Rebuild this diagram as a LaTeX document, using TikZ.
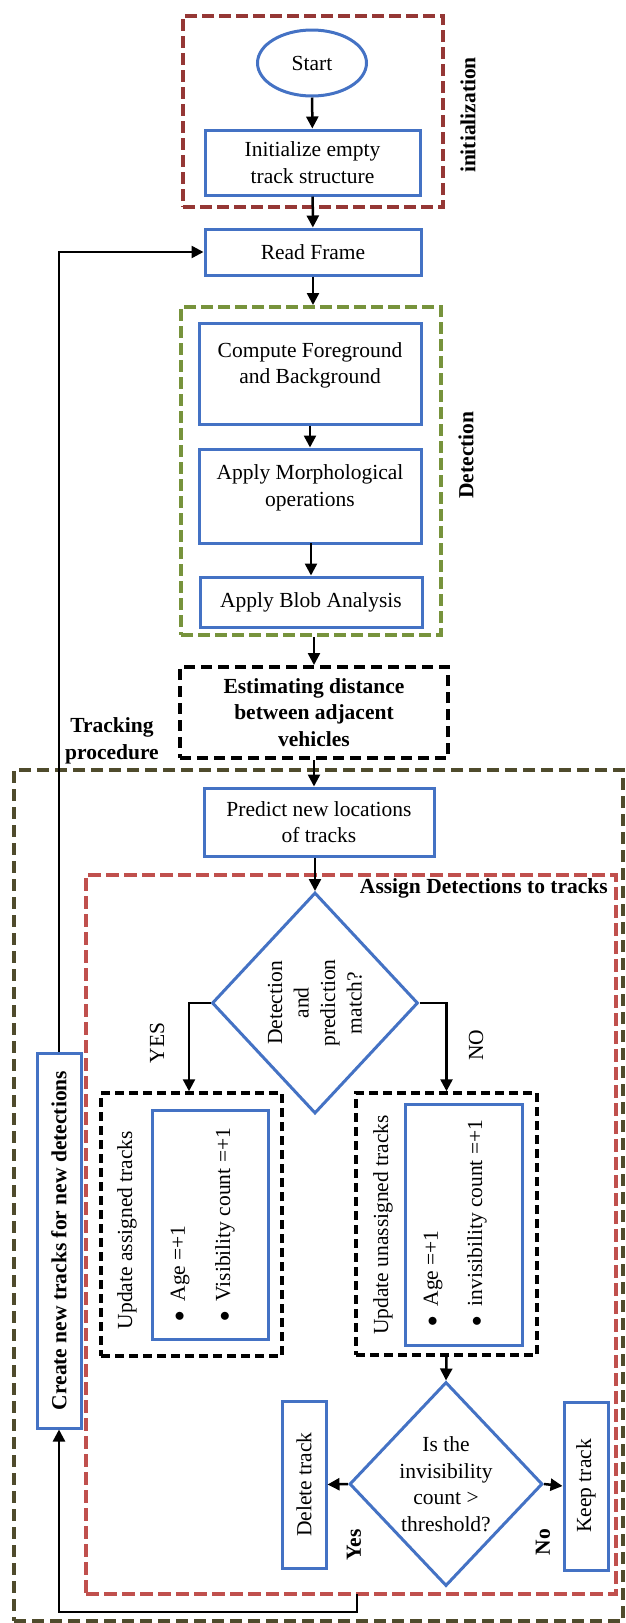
\documentclass[tikz,border=0pt]{standalone}
\usepackage{fontspec}
\setmainfont{Liberation Serif}
\usetikzlibrary{arrows.meta,shapes.geometric}
\definecolor{boxblue}{HTML}{4472C4}
\definecolor{initred}{HTML}{953735}
\definecolor{detgreen}{HTML}{77933C}
\definecolor{trackolive}{HTML}{4F4B2C}
\definecolor{assignred}{HTML}{C0504D}
\newcommand{\itembullet}{$\bullet$\hspace{10pt}}
\begin{document}
\begin{tikzpicture}[x=1pt,y=-1pt,
  font=\fontsize{21.5}{26.5}\selectfont,
  bfnode/.style={font=\fontsize{21.5}{26.5}\selectfont\bfseries},
  proc/.style={draw=boxblue,line width=3pt,inner sep=0pt,align=center},
  grpbox/.style={line width=4pt,dash pattern=on 12pt off 5pt,inner sep=0pt},
  blkbox/.style={draw=black,line width=3.5pt,dash pattern=on 9pt off 5pt,inner sep=0pt},
  vlab/.style={rotate=90,inner sep=0pt,align=center},
  flow/.style={-{Triangle[width=12pt,length=12pt]},line width=2.5pt}]
\useasboundingbox (0,0) rectangle (625,1623);

% ---- initialization ----
\node[grpbox,draw=initred,minimum width=260,minimum height=191] (initgrp) at (313,111.5) {};
\node[draw=boxblue,line width=3pt,ellipse,inner sep=0pt,minimum width=109,minimum height=66] (start) at (312,63) {Start};
\node[proc,minimum width=215,minimum height=65] (init) at (312.5,162.5) {Initialize empty\\track structure};
\node[vlab,bfnode] (initlab) at (468,115) {initialization};

\node[proc,minimum width=216,minimum height=46] (read) at (313,252) {Read Frame};

% ---- detection ----
\node[grpbox,draw=detgreen,minimum width=260,minimum height=328] (detgrp) at (311,471) {};
\node[proc,minimum width=222,minimum height=101,
  label={[yshift=8pt,align=center]center:Compute Foreground\\and Background}] (fg) at (310,373.5) {};
\node[proc,minimum width=222,minimum height=94,
  label={[yshift=8pt,align=center]center:Apply Morphological\\operations}] (morph) at (310,496) {};
\node[proc,minimum width=222,minimum height=50] (blob) at (311,602) {Apply Blob Analysis};
\node[vlab,bfnode] (detlab) at (466,455) {Detection};

% ---- distance estimation ----
\node[draw=black,line width=4pt,dash pattern=on 11pt off 6pt,inner sep=0pt,
  minimum width=268,minimum height=91,align=center,bfnode] (est) at (314,712.5)
  {Estimating distance\\between adjacent\\vehicles};

% ---- tracking ----
\node[bfnode,align=center,inner sep=0pt] (tracklab) at (112,741) {Tracking\\procedure};
\node[draw=trackolive,line width=3.5pt,dash pattern=on 12pt off 6pt,inner sep=0pt,
  minimum width=609,minimum height=851] (track) at (318.5,1195.5) {};
\node[proc,minimum width=230,minimum height=68] (pred) at (319,822) {Predict new locations\\of tracks};
\node[draw=assignred,line width=3.5pt,dash pattern=on 13pt off 5pt,inner sep=0pt,
  minimum width=530,minimum height=719] (assign) at (351,1234.5) {};
\node[bfnode,anchor=east,inner sep=0pt] (assignlab) at (608,888) {Assign Detections to tracks};

\node[draw=boxblue,line width=3pt,diamond,inner sep=0pt,minimum width=206,minimum height=221] (match) at (315,1003) {};
\node[vlab] (matchtxt) at (match.center) {Detection\\and\\prediction\\match?};
\node[vlab] (yeslab) at (157,1043) {YES};
\node[vlab] (nolab) at (476,1045) {NO};

% assigned tracks
\node[blkbox,minimum width=181,minimum height=263] (upA) at (191.5,1224.5) {};
\node[proc,minimum width=116,minimum height=229] (upAin) at (210,1224.5) {};
\node[vlab] (upAlab) at (127,1230) {Update assigned tracks};
\node[vlab,anchor=west] (upAage) at (180,1322) {\itembullet Age =+1};
\node[vlab,anchor=west] (upAvis) at (225,1322) {\itembullet Visibility count =+1};

% unassigned tracks
\node[blkbox,minimum width=181,minimum height=262] (upB) at (446.5,1224) {};
\node[proc,minimum width=117,minimum height=241] (upBin) at (463.5,1224.5) {};
\node[vlab] (upBlab) at (383,1225) {Update unassigned tracks};
\node[vlab,anchor=west] (upBage) at (433,1327) {\itembullet Age =+1};
\node[vlab,anchor=west] (upBinv) at (477,1327) {\itembullet invisibility count =+1};

\node[draw=boxblue,line width=3pt,diamond,inner sep=0pt,minimum width=193,minimum height=204,align=center] (thr) at (446,1484)
  {Is the\\invisibility\\count >\\threshold?};
\node[proc,minimum width=44,minimum height=167] (del) at (304,1484.5) {};
\node[vlab] (deltxt) at (del.center) {Delete track};
\node[proc,minimum width=44,minimum height=168] (keep) at (586,1486) {};
\node[vlab] (keeptxt) at (keep.center) {Keep track};
\node[vlab,bfnode] (yeslab2) at (354,1545) {Yes};
\node[vlab,bfnode] (nolab2) at (543,1542) {No};

\node[proc,minimum width=44,minimum height=375] (create) at (59,1240.5) {};
\node[vlab,bfnode] (createtxt) at (create.center) {Create new tracks for new detections};

% ---- connectors ----
\draw[flow] (start) -- (init);
\draw[flow] (init) -- (read);
\draw[flow] (read.south) -- (read.south |- detgrp.north);
\draw[flow] (fg) -- (morph);
\draw[flow] (morph.south) -- (morph.south -| blob.north) -- (blob.north);
\draw[flow] (est.north |- detgrp.south) -- (est.north);
\draw[flow] (est.south) -- (est.south |- pred.north);
\draw[flow] (pred.south -| match.north) -- (match.north);
\draw[flow] (match.west) -| ([xshift=-2.5pt]upA.north);
\draw[flow] (match.east) -| (upB.north);
\draw[flow] (upB.south) -- (thr.north);
\draw[flow] (thr.west) -- (del.east);
\draw[flow] (thr.east) -- (keep.west);
\coordinate (fb) at (357,1594);
\draw[flow] (fb) -- (357,1612) -| (create.south);
\draw[flow] (create.north) |- (read.west);
\end{tikzpicture}
\end{document}
